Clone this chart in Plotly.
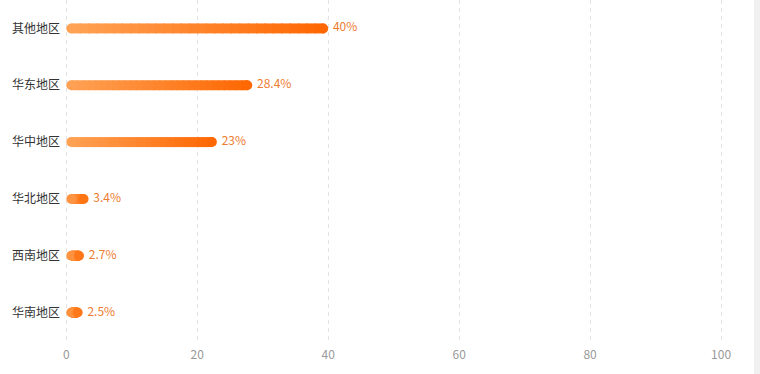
import plotly.graph_objects as go
import numpy as np

# ---- data ----
categories = ["其他地区", "华东地区", "华中地区", "华北地区", "西南地区", "华南地区"]
values = [40, 28.4, 23, 3.4, 2.7, 2.5]
value_labels = ["40%", "28.4%", "23%", "3.4%", "2.7%", "2.5%"]
x_ticks = [0, 20, 40, 60, 80, 100]

# ---- style ----
W, H = 760, 374
ML, MR, MT, MB = 65, 37, 0, 33
X_RANGE = [-0.2, 100.3]
BAR_PX = 10
C0 = np.array([255, 163, 86])
C1 = np.array([255, 102, 0])
N_SEG = 30
FONT = "Noto Sans CJK SC, Microsoft YaHei, sans-serif"

plot_w = W - ML - MR
px_per_unit = plot_w / (X_RANGE[1] - X_RANGE[0])
r = (BAR_PX / 2) / px_per_unit
bar_frac = BAR_PX / ((H - MT - MB) / len(categories))


def col(t):
    t = min(max(t, 0), 1)
    c = C0 + (C1 - C0) * t
    return "rgb(%d,%d,%d)" % tuple(c.round().astype(int))


fig = go.Figure()

vals = np.array(values, dtype=float)
starts = np.minimum(r, vals / 2)
ends = np.maximum(vals - r, vals / 2)
spans = ends - starts

for k in range(N_SEG):
    bases = starts + spans * k / N_SEG
    widths = spans / N_SEG * 1.15
    colors = [col((b + w / 2) / v) for b, w, v in zip(bases, spans / N_SEG, vals)]
    fig.add_trace(go.Bar(
        y=categories, x=widths, base=bases, orientation="h",
        width=bar_frac, marker=dict(color=colors, line=dict(width=0)),
        hoverinfo="skip", showlegend=False,
    ))

# rounded caps
fig.add_trace(go.Scatter(
    y=categories, x=starts, mode="markers",
    marker=dict(size=BAR_PX, color=[col(s / v) for s, v in zip(starts, vals)], line=dict(width=0)),
    hoverinfo="skip", showlegend=False,
))
fig.add_trace(go.Scatter(
    y=categories, x=ends, mode="markers",
    marker=dict(size=BAR_PX, color=[col(e / v) for e, v in zip(ends, vals)], line=dict(width=0)),
    hoverinfo="skip", showlegend=False,
))

# value labels
fig.add_trace(go.Scatter(
    y=categories, x=values, mode="markers+text", text=value_labels,
    textposition="middle right",
    marker=dict(size=6, opacity=0),
    textfont=dict(family=FONT, size=12, color="#EE7B30"),
    hoverinfo="skip", showlegend=False, cliponaxis=False,
))

fig.update_layout(
    width=W, height=H,
    margin=dict(l=ML, r=MR, t=MT, b=MB, pad=0),
    paper_bgcolor="white", plot_bgcolor="white",
    barmode="overlay",
    font=dict(family=FONT, size=12, color="#333"),
    xaxis=dict(
        range=X_RANGE, tickvals=x_ticks, ticktext=[str(t) for t in x_ticks],
        showgrid=True, gridcolor="#E3E3E3", griddash="4px,4px", gridwidth=1,
        zeroline=False, showline=False, ticks="", ticklen=0,
        ticklabelstandoff=5,
        tickfont=dict(family=FONT, size=12, color="#999"),
        fixedrange=True,
    ),
    yaxis=dict(
        categoryorder="array", categoryarray=categories, autorange="reversed",
        showgrid=False, zeroline=False, showline=False, ticks="",
        ticklabelstandoff=4,
        tickfont=dict(family=FONT, size=12, color="#333"),
        fixedrange=True,
    ),
    shapes=[dict(
        type="rect", xref="paper", yref="paper",
        x0=(754 - ML) / plot_w, x1=(W - ML) / plot_w + 0.01, y0=-1, y1=2,
        fillcolor="#F1F1F1", line=dict(width=0), layer="below",
    )],
)

fig.write_html("out.html", config={"displayModeBar": False})
